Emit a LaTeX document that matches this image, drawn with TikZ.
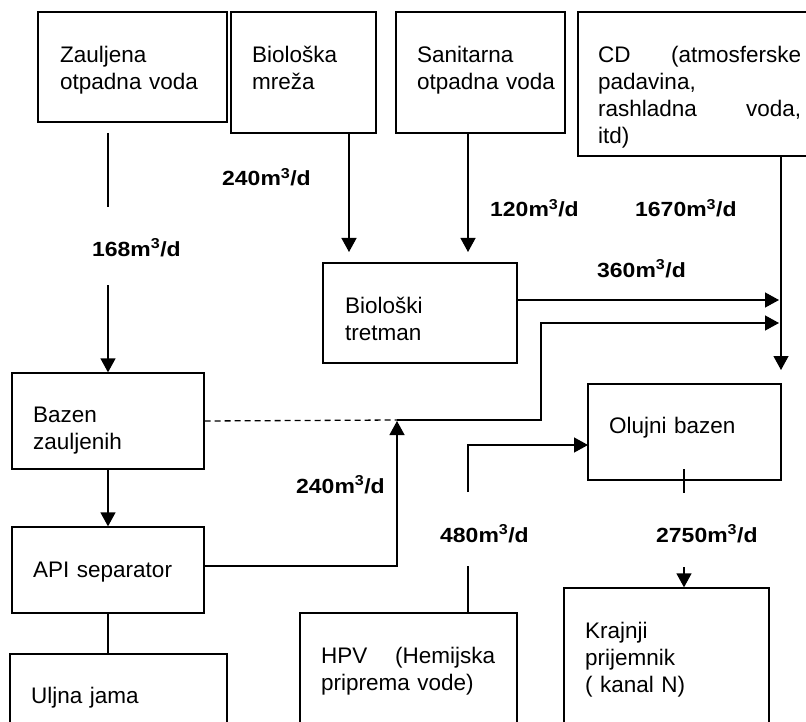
\documentclass[tikz,border=0pt]{standalone}
\usepackage{fontspec}
\setmainfont{Liberation Sans}
\newfontfamily\lblfont[FakeStretch=1.12]{Liberation Sans}
\usetikzlibrary{arrows.meta}
\begin{document}
\begin{tikzpicture}[x=1pt,y=-1pt,
  box/.style={draw,line width=1.3pt,rectangle,inner sep=0pt},
  txt/.style={anchor=base west,inner sep=0pt,align=left,text width=200pt,font=\fontsize{22.5}{27}\selectfont},
  lbl/.style={anchor=base west,inner sep=0pt,font=\lblfont\bfseries\fontsize{20.5}{24}\selectfont},
  ln/.style={line width=1.3pt},
  arr/.style={line width=1.3pt,-{Triangle[length=14pt,width=15pt]}}]
\useasboundingbox (0,0) rectangle (806,722);
\clip (0,0) rectangle (806,722);
% boxes
\node[box,minimum width=189pt,minimum height=110pt] (zo) at (132.5,67) {};
\node[box,minimum width=145pt,minimum height=121pt] (bm) at (303.5,72.5) {};
\node[box,minimum width=169pt,minimum height=121pt] (san) at (480.5,72.5) {};
\node[box,minimum width=252pt,minimum height=144pt] (cd) at (704,84) {};
\node[box,minimum width=194pt,minimum height=100pt] (bt) at (420,313) {};
\node[box,minimum width=192pt,minimum height=96pt] (bz) at (108,421) {};
\node[box,minimum width=192pt,minimum height=86pt] (api) at (108,570) {};
\node[box,minimum width=217pt,minimum height=91pt] (uj) at (118.5,699.5) {};
\node[box,minimum width=217pt,minimum height=132pt] (hpv) at (408.5,679) {};
\node[box,minimum width=193pt,minimum height=96pt] (ob) at (684.5,432) {};
\node[box,minimum width=205pt,minimum height=157pt] (kp) at (666.5,666.5) {};
% texts
\node[txt] (tzo) at (60,63) {Zauljena\\otpadna voda};
\node[txt] (tbm) at (252,63) {Biološka\\mreža};
\node[txt] (tsan) at (417,63) {Sanitarna\\otpadna voda};
\node[txt,text width=203pt] (tcd) at (598,63) {CD\hfill(atmosferske\\padavina,\\rashladna\hfill voda,\\itd)};
\node[txt] (tbt) at (345,313) {Biološki\\tretman};
\node[txt] (tbz) at (33,422) {Bazen\\zauljenih};
\node[txt] (tapi) at (33,577) {API separator};
\node[txt] (tuj) at (31,703) {Uljna jama};
\node[txt,text width=174pt] (thpv) at (321,663) {HPV\hfill(Hemijska\\priprema vode)};
\node[txt] (tob) at (609,433) {Olujni bazen};
\node[txt] (tkp) at (585,638) {Krajnji\\prijemnik\\( kanal N)};
% labels
\node[lbl] (l168) at (92,256) {168m\textsuperscript{3}/d};
\node[lbl] (l240a) at (222,186) {240m\textsuperscript{3}/d};
\node[lbl] (l120) at (490,217) {120m\textsuperscript{3}/d};
\node[lbl] (l1670) at (635,217) {1670m\textsuperscript{3}/d};
\node[lbl] (l360) at (597,277) {360m\textsuperscript{3}/d};
\node[lbl] (l240b) at (296,493) {240m\textsuperscript{3}/d};
\node[lbl] (l480) at (440,542) {480m\textsuperscript{3}/d};
\node[lbl] (l2750) at (656,542) {2750m\textsuperscript{3}/d};
% coordinates
\coordinate (zoA) at (108,133);
\coordinate (zoB) at (108,207);
\coordinate (zoC) at (108,285);
\coordinate (bmA) at (349,133);
\coordinate (bmB) at (349,252);
\coordinate (sanA) at (468,133);
\coordinate (sanB) at (468,252);
\coordinate (cdA) at (781,156);
\coordinate (cdB) at (781,370);
\coordinate (btIn1) at (779,300);
\coordinate (j1) at (541,323);
\coordinate (btIn2) at (779,323);
\coordinate (j2) at (541,420);
\coordinate (j3) at (397,420);
\coordinate (j3t) at (397,421);
\coordinate (j4) at (397,566);
\coordinate (hpA) at (468,613);
\coordinate (hpB) at (468,566);
\coordinate (hpC) at (468,492);
\coordinate (hpD) at (468,445);
\coordinate (obIn) at (588,445);
\coordinate (obA) at (684,469);
\coordinate (obB) at (684,493);
\coordinate (obC) at (684,567);
% connectors
\draw[ln] (zoA) -- (zoB);
\draw[arr] (zoC) -- (bz.north);
\draw[arr] (bmA) -- (bmB);
\draw[arr] (sanA) -- (sanB);
\draw[arr] (cdA) -- (cdB);
\draw[arr] (bt.east |- btIn1) -- (btIn1);
\draw[arr] (j3) -- (j2) -- (j1) -- (btIn2);
\draw[ln,dash pattern=on 6pt off 4pt] (bz.east) -- (j3);
\draw[arr] (api.east |- j4) -- (j4) -- (j3t);
\draw[ln] (hpA) -- (hpB);
\draw[arr] (hpC) -- (hpD) -- (obIn);
\draw[ln] (obA) -- (obB);
\draw[arr] (obC) -- (obC |- kp.north);
\draw[arr] (bz.south) -- (api.north);
\draw[ln] (api.south) -- (uj.north -| api.south);
\end{tikzpicture}
\end{document}
